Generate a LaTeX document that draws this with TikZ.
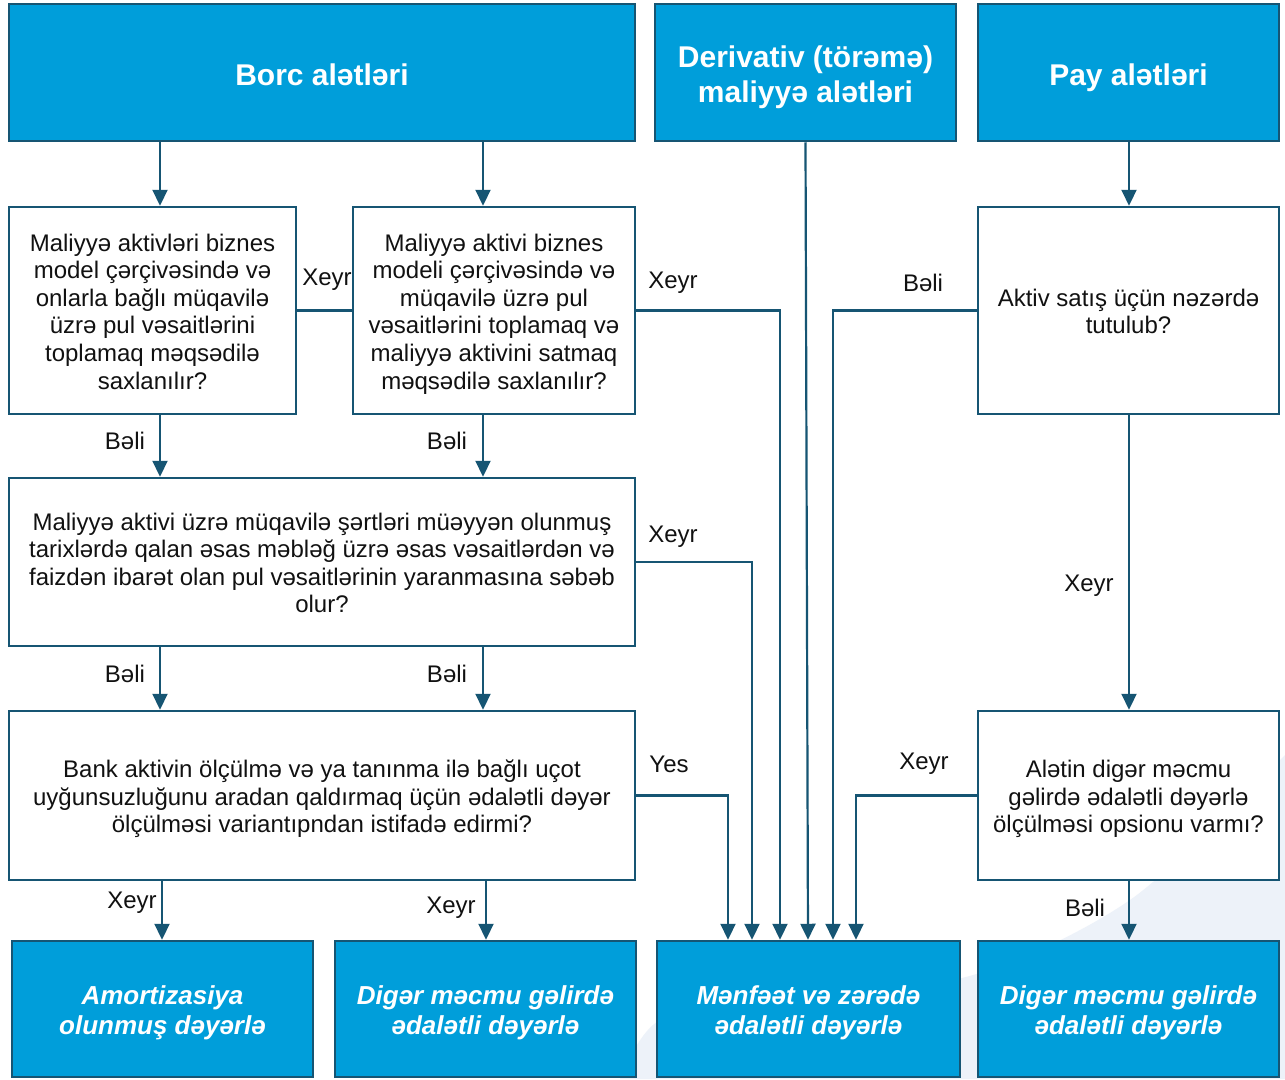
\documentclass[tikz,border=0pt]{standalone}
\usepackage{fontspec}
\setmainfont{Liberation Sans}
\usetikzlibrary{arrows.meta}
\definecolor{blu}{HTML}{009EDA}
\definecolor{bord}{HTML}{165573}
\definecolor{bgl}{HTML}{EDF2F9}
\definecolor{txt}{HTML}{111111}
\newcommand\qTop{\rule{0pt}{24.5pt}}
\newcommand\qBot{\rule[-5.5pt]{0pt}{0pt}}
\newcommand\hTop{\rule{0pt}{32pt}}
\newcommand\hBot{\rule[-7pt]{0pt}{0pt}}
\newcommand\eTop{\rule{0pt}{27.5pt}}
\newcommand\eBot{\rule[-6pt]{0pt}{0pt}}
\tikzset{
  topbox/.style={draw=bord, line width=2.5pt, fill=blu, text=white, align=center, inner sep=0pt,
    font=\fontsize{30}{35}\selectfont\bfseries},
  endbox/.style={draw=bord, line width=2.5pt, fill=blu, text=white, align=center, inner sep=0pt,
    font=\fontsize{26}{30}\selectfont\bfseries\itshape},
  qbox/.style={draw=bord, line width=2.5pt, fill=white, text=txt, align=center, inner sep=0pt,
    font=\fontsize{24}{27.6}\selectfont},
  conn/.style={draw=bord, line width=2.2pt},
  arr/.style={conn, -{Triangle[length=16pt,width=15pt]}},
  lbl/.style={text=txt, inner sep=0pt, font=\fontsize{24}{27.6}\selectfont}
}
\begin{document}
\begin{tikzpicture}[x=1pt,y=-1pt]
\useasboundingbox (0,0) rectangle (1285,1079);
\fill[white] (0,0) rectangle (1285,1079);
\fill[bgl] plot[smooth] coordinates {(620,1079) (657,1022) (760,992) (962,978) (1130,900) (1285,755)} -- (1285,1079) -- cycle;

% top row
\node[topbox, minimum width=626pt, minimum height=137pt] (borc) at (322,72.5) {\hTop Borc alətləri\hBot};
\node[topbox, minimum width=301pt, minimum height=137pt] (deriv) at (805.5,72.5) {\hTop Derivativ (törəmə)\\maliyyə alətləri\hBot};
\node[topbox, minimum width=301pt, minimum height=137pt] (pay) at (1128.5,72.5) {\hTop Pay alətləri\hBot};

% row 2
\node[qbox, minimum width=287pt, minimum height=207pt] (q1) at (152.5,310.5) {\qTop Maliyyə aktivləri biznes\\model çərçivəsində və\\onlarla bağlı müqavilə\\üzrə pul vəsaitlərini\\toplamaq məqsədilə\\saxlanılır?\qBot};
\node[qbox, minimum width=282pt, minimum height=207pt] (q2) at (494,310.5) {\qTop Maliyyə aktivi biznes\\modeli çərçivəsində və\\müqavilə üzrə pul\\vəsaitlərini toplamaq və\\maliyyə aktivini satmaq\\məqsədilə saxlanılır?\qBot};
\node[qbox, minimum width=301pt, minimum height=207pt] (pq1) at (1128.5,310.5) {\qTop Aktiv satış üçün nəzərdə\\tutulub?\qBot};

% row 3
\node[qbox, minimum width=626pt, minimum height=168pt] (q3) at (322,562) {\qTop Maliyyə aktivi üzrə müqavilə şərtləri müəyyən olunmuş\\tarixlərdə qalan əsas məbləğ üzrə əsas vəsaitlərdən və\\faizdən ibarət olan pul vəsaitlərinin yaranmasına səbəb\\olur?\qBot};

% row 4
\node[qbox, minimum width=626pt, minimum height=169pt] (q4) at (322,795.5) {\qTop Bank aktivin ölçülmə və ya tanınma ilə bağlı uçot\\uyğunsuzluğunu aradan qaldırmaq üçün ədalətli dəyər\\ölçülməsi variantıpndan istifadə edirmi?\qBot};
\node[qbox, minimum width=301pt, minimum height=169pt] (pq2) at (1128.5,795.5) {\qTop Alətin digər məcmu\\gəlirdə ədalətli dəyərlə\\ölçülməsi opsionu varmı?\qBot};

% bottom row
\node[endbox, minimum width=301pt, minimum height=136pt] (b1) at (162.5,1009) {\eTop Amortizasiya\\olunmuş dəyərlə\eBot};
\node[endbox, minimum width=301pt, minimum height=136pt] (b2) at (485.5,1009) {\eTop Digər məcmu gəlirdə\\ədalətli dəyərlə\eBot};
\node[endbox, minimum width=303pt, minimum height=136pt] (b3) at (808.5,1009) {\eTop Mənfəət və zərədə\\ədalətli dəyərlə\eBot};
\node[endbox, minimum width=301pt, minimum height=136pt] (b4) at (1128.5,1009) {\eTop Digər məcmu gəlirdə\\ədalətli dəyərlə\eBot};

% column coordinates
\coordinate (cA) at (160,0);
\coordinate (cB) at (483,0);
\coordinate (cA2) at (162,0);
\coordinate (cB2) at (486,0);
\coordinate (cP) at (1129,0);
\coordinate (k1) at (728,0);
\coordinate (k2) at (752,0);
\coordinate (k3) at (780,0);
\coordinate (k4) at (808,0);
\coordinate (k5) at (833,0);
\coordinate (k6) at (856,0);

% connectors
\draw[arr] (borc.south -| cA) -- (q1.north -| cA);
\draw[arr] (borc.south -| cB) -- (q2.north -| cB);
\draw[arr] (pay.south -| cP) -- (pq1.north -| cP);
\draw[conn] (q1.east) -- (q2.west);
\draw[arr] (q1.south -| cA) -- (q3.north -| cA);
\draw[arr] (q2.south -| cB) -- (q3.north -| cB);
\draw[arr] (q3.south -| cA) -- (q4.north -| cA);
\draw[arr] (q3.south -| cB) -- (q4.north -| cB);
\draw[arr] (q4.south -| cA2) -- (b1.north -| cA2);
\draw[arr] (q4.south -| cB2) -- (b2.north -| cB2);
\draw[arr] (pq1.south -| cP) -- (pq2.north -| cP);
\draw[arr] (pq2.south -| cP) -- (b4.north -| cP);
\draw[arr] (q4.east) -- (q4.east -| k1) -- (b3.north -| k1);
\draw[arr] (q3.east) -- (q3.east -| k2) -- (b3.north -| k2);
\draw[arr] (q2.east) -- (q2.east -| k3) -- (b3.north -| k3);
\draw[arr] (deriv.south) -- (b3.north -| k4);
\draw[arr] (pq1.west) -- (pq1.west -| k5) -- (b3.north -| k5);
\draw[arr] (pq2.west) -- (pq2.west -| k6) -- (b3.north -| k6);

% labels
\node[lbl] (l1) at (327,280) {Xeyr};
\node[lbl] (l2) at (673,283) {Xeyr};
\node[lbl] (l3) at (673,537) {Xeyr};
\node[lbl] (l4) at (669,764) {Yes};
\node[lbl] (l5) at (923,283) {Bəli};
\node[lbl] (l6) at (924,764) {Xeyr};
\node[lbl] (l7) at (125,441) {Bəli};
\node[lbl] (l8) at (447,441) {Bəli};
\node[lbl] (l9) at (125,674) {Bəli};
\node[lbl] (l10) at (447,674) {Bəli};
\node[lbl] (l11) at (132,903) {Xeyr};
\node[lbl] (l12) at (451,908) {Xeyr};
\node[lbl] (l13) at (1089,586) {Xeyr};
\node[lbl] (l14) at (1085,908) {Bəli};
\end{tikzpicture}
\end{document}
